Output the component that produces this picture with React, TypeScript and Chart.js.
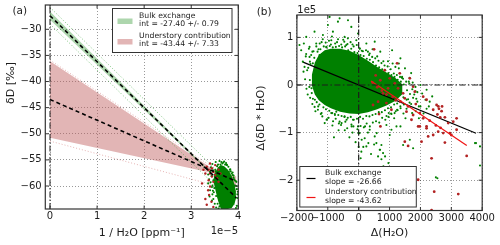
import React, { useEffect, useRef } from 'react';
import { Chart, registerables } from 'chart.js';

Chart.register(...registerables);

const FONT = 'DejaVu Sans';
const INK = '#1c1c1c';

// ---------------- Panel (a) data ----------------
const aXTicks = [0, 1, 2, 3, 4];
const aYTicks = [-60, -55, -50, -45, -40, -35, -30];
const aXMin = -0.1, aXMax = 4;
const aYMin = -64.4, aYMax = -25.35;

const aZeroX = [0, 0];
const aZeroY = [-64.4, -25.35];

const aBulkFitX = [0, 3.96];
const aBulkFitY = [-27.4, -62.29];
const aBulkBandX = [0, 3.7, 3.96];
const aBulkBandUp = [-26.61, -59.93, -62.1];
const aBulkBandLo = [-28.19, -60.07, -62.5];
const aBulkPredX = [0, 3.96];
const aBulkPredUp = [-25.8, -60.7];
const aBulkPredLo = [-29.0, -63.9];

const aUnderFitX = [0, 3.95];
const aUnderFitY = [-43.44, -59.08];
const aUnderBandX = [0, 3.5, 3.96];
const aUnderBandUp = [-36.11, -57.0, -58.2];
const aUnderBandLo = [-50.77, -57.6, -60.3];
const aUnderPredX = [0, 3.96];
const aUnderPredUp = [-35.9, -59.4];
const aUnderPredLo = [-51.4, -61.0];

const aCoreX = [3.48, 3.52, 3.57, 3.63, 3.7, 3.78, 3.86, 3.92, 3.95];
const aCoreUp = [-58.2, -57.2, -56.4, -56.0, -56.2, -56.9, -58.1, -59.7, -61.0];
const aCoreLo = [-59.4, -61.0, -62.8, -64.4, -64.4, -64.4, -64.2, -63.4, -62.4];

const aGreenX = [3.42, 3.45, 3.52, 3.6, 3.7, 3.74, 3.82, 3.88, 3.9, 3.96, 3.97, 3.98, 3.97, 3.43, 3.41, 3.44, 3.45, 3.47, 3.5, 3.53, 3.4, 3.38, 3.46, 3.58, 3.4, 3.36, 3.57, 3.64, 3.8, 3.92, 3.44, 3.49, 3.52, 3.46, 3.99, 3.36, 3.39, 3.62, 3.84, 3.95,
  3.55, 3.66, 3.72, 3.79, 3.84, 3.9, 3.94, 3.96, 3.5, 3.47, 3.49, 3.53, 3.56, 3.6, 3.68, 3.76, 3.83, 3.88, 3.93, 3.98, 3.51, 3.54, 3.45, 3.48, 3.58, 3.62, 3.67, 3.75, 3.86, 3.91];
const aGreenY = [-56.4, -55.8, -55.4, -55.2, -55.3, -55.6, -56.9, -57.4, -58.4, -59.2, -60.6, -62.3, -63.8, -58.1, -59.3, -60.2, -61.6, -62.5, -63.4, -64.1, -57.3, -58.7, -57.0, -64.3, -60.8, -57.8, -55.9, -55.4, -57.3, -58.9, -62.8, -58.7, -57.2, -60.9, -61.1, -59.5, -62.0, -55.9, -63.9, -64.2,
  -56.2, -55.7, -55.9, -56.3, -57.2, -58.0, -59.0, -60.0, -57.8, -58.9, -60.4, -61.9, -63.4, -63.9, -55.5, -56.0, -56.8, -57.9, -59.9, -61.6, -56.9, -57.9, -59.9, -61.2, -62.2, -63.3, -56.6, -55.9, -57.6, -58.7];

const aRedX = [3.33, 3.37, 3.44, 3.47, 3.4, 3.51, 3.55, 3.44, 3.58, 3.47, 3.37, 3.3, 3.26, 3.51, 3.4, 3.58, 3.62, 3.4, 3.36, 3.38, 3.3, 3.43, 3.33, 3.47, 3.23];
const aRedY = [-56.3, -56.9, -56.6, -57.3, -57.6, -57.9, -58.5, -58.2, -59.2, -59.2, -58.9, -57.6, -56.9, -56.0, -55.7, -56.9, -57.6, -60.1, -60.8, -61.7, -62.5, -63.0, -63.6, -64.0, -59.5];

// ---------------- Panel (b) data ----------------
const bXTicks = [-2000, -1000, 0, 1000, 2000, 3000, 4000];
const bYTicks = [-2, -1, 0, 1];
const bXMin = -2000, bXMax = 4000;
const bYMin = -2.636, bYMax = 1.47;

const bHLineX = [-2000, 4000];
const bHLineY = [0, 0];
const bVLineX = [0, 0];
const bVLineY = [-2.636, 1.47];

const bBulkX = [-1800, 3800];
const bBulkY = [0.48, -1.013];
const bUnderX = [400, 3500];
const bUnderY = [0.082, -1.27];

const bCoreX = [-1520, -1420, -1290, -1100, -900, -600, -300, 0, 300, 600, 900, 1200, 1420];
const bCoreUp = [0.2, 0.47, 0.63, 0.73, 0.76, 0.76, 0.72, 0.63, 0.51, 0.38, 0.26, 0.14, 0.01];
const bCoreLo = [0.0, -0.2, -0.32, -0.42, -0.49, -0.56, -0.6, -0.61, -0.57, -0.51, -0.43, -0.33, -0.19];

const bGreenX = [
  -617, -671, -996, -1429, -1158, -1698, -834, -455, -238, -76, 249, 520, 357, -1861, -1916, -1591, -1374, -1591, -1808, -1753, -1483, -1266, -1049, -887, -400, 32, -22, -346, -942,
  -1775, -1786, -1580, -1526, -1418, -1310, -1201, -1039, -769, -552, -390, -228, -11, 206, 98, 314, 585, 693, 855, 801, 963, 1071,
  2549, 3929, 3929, 3800, 1190, 1407, 1623, 1840, 2056, 2164, 1948, 1731, 1515, 2272, 2381, 1353, 1190, 974, 1245, 1082, 1352,
  3766, 2500, 1763, 1656, 1439, 1061, 1006, 737, 790, 1224, 899,
  -725, -455, -184, -22, 32, 195, 357, 520, 574, 682, 628, 737, 87, 65, 249, -887, -617,
  1600, 1700, 1800, 1650, 1750, 1900, 2000, 1850, 1550, 1450, 1350, 1200, 1150, 1050, 900, 1300, 1100, 950, 1200, 1400, 2100, 2200, 1950,
  -700, -500, -200, -900, -1200, -1500, -1300, -1700, -350, 100, 300, 600, 800, 700, 450, 1500, 1700, 2000, 2200, 2300, 1900, 1300,
  -1650, -1500, -1400, -1100, -850, -650, -450, -300, -100, 150, 400, 500, 300, 0, -200, -800,
  -1712, -1668, -1735, -1690, -1612, -1578, -1634, -1596, -1571, -1538, -1561, -1519, -1462, -1437, -1481, -1426,
  -1371, -1332, -1358, -1319, -1262, -1238, -1271, -1226, -1163, -1131, -1142, -1177, -1068, -1041, -1059, -1024,
  -962, -937, -951, -974, -866, -838, -857, -829, -761, -739, -772, -744, -668, -634, -659, -641,
  -563, -537, -552, -571, -466, -438, -459, -431, -362, -339, -353, -371, -262, -241, -256, -234,
  -163, -139, -158, -171, -62, -38, -54, -41, 38, 61, 47, 62, 137, 162, 141, 168,
  238, 263, 247, 259, 337, 361, 349, 362, 438, 466, 447, 459, 536, 561, 548, 563,
  641, 663, 652, 667, 738, 762, 749, 761, 839, 862, 851, 863, 938, 961, 949, 966,
  1036, 1062, 1047, 1063, 1138, 1161, 1149, 1164, 1237, 1263, 1246, 1262, 1339, 1366, 1347, 1358, 1371,
  1437, 1462, 1448, 1463, 1538, 1566, 1552, 1641, 1662, 1648, 1737, 1762, 1842, 1866,
];
const bGreenY = [
  1.4, 1.33, 1.26, 1.12, 1.05, 1.01, 1.12, 1.01, 1.22, 0.94, 0.87, 0.91, 0.66, 0.73, 0.84, 0.8, 0.87, 0.59, 0.49, 0.38, 0.455, 0.63, 0.8, 0.94, 0.84, 0.77, 1.08, 1.36, 1.43,
  0.87, 0.28, 0.105, -0.07, -0.31, -0.45, -0.59, -0.73, -0.63, -0.8, -0.73, -0.87, -1.01, -0.87, -1.15, -1.22, -1.01, -1.36, -1.5, -1.71, -1.64, -1.85,
  -1.96, -1.29, -1.69, -1.22, 0.38, 0.17, 0.07, -0.04, -0.18, -0.31, -0.45, -0.59, -0.7, -0.45, -0.24, -0.87, -0.31, -0.59, -0.52, 0.73, 0.56,
  -1.22, -1.94, -1.33, -1.15, -1.26, -0.94, -1.05, -1.26, -1.43, -0.87, -0.84,
  -0.56, -0.66, -0.73, -0.87, -1.01, -1.12, -0.94, -1.08, -1.22, -1.36, -1.5, -1.56, -1.4, -1.54, -1.29, -0.59, -0.77,
  -0.3, -0.4, -0.2, 0.15, 0.05, -0.35, -0.45, -0.55, -0.5, -0.6, -0.45, -0.55, -0.7, -0.6, -0.65, 0.35, 0.45, 0.5, 0.05, 0.15, -0.6, -0.5, -0.7,
  0.9, 0.95, 0.85, 0.85, 0.9, 0.7, 0.75, 0.65, 0.98, 0.72, 0.7, 0.6, 0.5, 0.7, 0.75, 0.35, 0.25, 0.0, -0.1, -0.35, -0.15, 0.45,
  -0.2, -0.4, -0.55, -0.8, -0.85, -0.95, -0.95, -1.1, -1.2, -1.3, -1.45, -1.25, -1.0, -1.3, -1.0, -1.1,
  0.6, 0.31, 0.12, -0.08, 0.76, 0.49, 0.36, -0.04, -0.27, 0.63, 0.44, -0.17, 0.71, 0.57, -0.29, -0.46,
  0.81, 0.7, -0.36, -0.52, 0.87, 0.75, -0.41, -0.61, 0.96, 0.81, -0.47, -0.66, 0.89, 0.79, -0.51, -0.72,
  0.93, 0.82, -0.54, -0.69, 1.02, 0.79, -0.59, -0.76, 0.87, 0.8, -0.61, -0.71, 0.96, 0.82, -0.63, -0.81,
  0.85, 0.79, -0.65, -0.84, 0.91, 0.81, -0.67, -0.77, 0.86, 0.73, -0.69, -0.91, 0.9, 0.76, -0.67, -0.83,
  0.81, 0.69, -0.73, -0.87, 0.84, 0.67, -0.71, -0.93, 0.76, 0.63, -0.67, -0.86, 0.71, 0.61, -0.71, -0.89,
  0.73, 0.55, -0.65, -0.81, 0.63, 0.53, -0.66, -0.87, 0.59, 0.48, -0.63, -0.79, 0.56, 0.41, -0.61, -0.76,
  0.51, 0.37, -0.57, -0.79, 0.46, 0.33, -0.57, -0.69, 0.41, 0.31, -0.53, -0.73, 0.39, 0.25, -0.49, -0.67,
  0.33, 0.21, -0.47, -0.61, 0.24, 0.17, -0.41, -0.59, 0.21, 0.11, -0.39, -0.53, 0.17, 0.07, -0.34, -0.49, -0.11,
  0.13, 0.01, -0.26, -0.41, 0.07, -0.11, -0.31, 0.03, -0.19, -0.37, -0.09, -0.27, -0.13, -0.29,
];

const bRedX = [498, 1244, 844, 1656, 1763, 1818, 1276, 1439, 1494, 2088, 2198, 2523, 2600, 2685, 2550, 2640, 2580, 2700, 2413, 1981, 2088, 1763, 1710, 1548, 2198, 1926, 2900, 3062, 3171, 2792, 1061, 899, 790, 1006, 1169, 1331, 951, 2035, 2413, 2250, 1601, 1494, 2792, 2955, 2738, 3497, 2361, 2446, 3225, 2361, 1926, 1981, 2198, 3171, 2575, 628, 465, 704, 660, 450, 600, 750, 900, 1100, 1200, 1350, 700, 550, 1600, 1850, 2300, 2500, 2650, 3000];
const bRedY = [0.75, 0.455, 0.31, 0.14, -0.035, -0.14, -0.07, -0.175, -0.28, -0.245, -0.31, -0.42, -0.5, -0.55, -0.62, -0.68, -0.45, -0.45, -0.52, -0.59, -0.7, -0.63, -0.73, -0.56, -0.87, -0.87, -0.8, -0.77, -0.7, -0.68, -0.52, -0.38, -0.175, 0.14, 0.035, 0.245, -0.07, -1.19, -1.05, -1.08, -1.28, -1.19, -1.21, -1.01, -1.01, -1.49, -1.54, -2.24, -2.29, -2.63, -1.99, -0.87, -0.91, -0.94, -0.98, -0.35, -0.42, -0.87, -0.61, 0.05, -0.05, -0.12, -0.2, -0.25, -0.32, -0.35, 0.1, 0.2, -0.45, -0.4, -0.75, -0.85, -0.9, -1.05];

// ---------------- Texts ----------------
const aLegendLabels = [
  ['Bulk exchange', 'int = -27.40 +/- 0.79'],
  ['Understory contribution', 'int = -43.44 +/- 7.33'],
];
const bLegendLabels = [
  ['Bulk exchange', 'slope = -26.66'],
  ['Understory contribution', 'slope = -43.62'],
];
const aXTitle = '1 / H\u2082O [ppm\u207B\u00B9]';
const aYTitle = '\u03B4D [\u2030]';
const bXTitle = '\u0394(H\u2082O)';
const bYTitle = '\u0394(\u03B4D * H\u2082O)';

const GREEN_BAND = 'rgba(0,128,0,0.32)';
const RED_BAND = 'rgba(190,90,90,0.45)';
const GREEN_PT = 'rgb(0,128,0)';
const RED_PT = 'rgb(178,34,34)';

const pts = (xs: number[], ys: number[]) => xs.map((x, i) => ({ x, y: ys[i] }));
const fmt = (v: number) => String(v).replace('-', '\u2212');

function lineDs(xs: number[], ys: number[], o: any) {
  return { data: pts(xs, ys), showLine: true, pointRadius: 0, pointHoverRadius: 0, borderWidth: 1, tension: 0, fill: false, ...o };
}
function ptDs(xs: number[], ys: number[], color: string, r: number, order: number) {
  return { data: pts(xs, ys), showLine: false, pointRadius: r, pointHoverRadius: r, pointBackgroundColor: color, pointBorderWidth: 0, borderWidth: 0, order };
}

function axes(xMin: number, xMax: number, yMin: number, yMax: number, xTicks: number[], yTicks: number[], yW: number, xH: number, xTitle: string, xPad: number) {
  const tickFont = { family: FONT, size: 10 };
  const titleFont = { family: FONT, size: 11 };
  const zero = (s: any) => { s.paddingLeft = 0; s.paddingRight = 0; s.paddingTop = 0; s.paddingBottom = 0; };
  return {
    x: {
      type: 'linear', min: xMin, max: xMax,
      afterBuildTicks: (s: any) => { s.ticks = xTicks.map((v) => ({ value: v })); },
      afterFit: (s: any) => { s.height = xH; zero(s); },
      ticks: { callback: (v: any) => fmt(Number(v)), font: tickFont, color: INK, padding: xPad, maxRotation: 0, minRotation: 0, autoSkip: false },
      grid: { color: 'rgba(0,0,0,0.5)', lineWidth: 0.8, drawTicks: false },
      border: { display: false, dash: [1, 2] },
      title: { display: true, text: xTitle, font: titleFont, color: INK, padding: { top: 0, bottom: 5.4 } },
    },
    y: {
      type: 'linear', min: yMin, max: yMax,
      afterBuildTicks: (s: any) => { s.ticks = yTicks.map((v) => ({ value: v })); },
      afterFit: (s: any) => { s.width = yW; zero(s); },
      ticks: { callback: (v: any) => fmt(Number(v)), font: tickFont, color: INK, padding: 3.6, autoSkip: false },
      grid: { color: 'rgba(0,0,0,0.5)', lineWidth: 0.8, drawTicks: false },
      border: { display: false, dash: [1, 2] },
      title: { display: false },
    },
  };
}

function framePlugin(xTicks: number[], yTicks: number[]) {
  return {
    id: 'frameTicks',
    afterDatasetsDraw(chart: any) {
      const { ctx, chartArea: a, scales } = chart;
      ctx.save();
      ctx.strokeStyle = '#333';
      ctx.lineWidth = 1;
      ctx.beginPath();
      for (const v of xTicks) {
        const px = scales.x.getPixelForValue(v);
        ctx.moveTo(px, a.bottom); ctx.lineTo(px, a.bottom - 3.5);
        ctx.moveTo(px, a.top); ctx.lineTo(px, a.top + 3.5);
      }
      for (const v of yTicks) {
        const py = scales.y.getPixelForValue(v);
        ctx.moveTo(a.left, py); ctx.lineTo(a.left + 3.5, py);
        ctx.moveTo(a.right, py); ctx.lineTo(a.right - 3.5, py);
      }
      ctx.stroke();
      ctx.lineWidth = 1.2;
      ctx.strokeRect(a.left, a.top, a.right - a.left, a.bottom - a.top);
      ctx.restore();
    },
  };
}

function textPlugin(draw: (ctx: CanvasRenderingContext2D, chart: any) => void) {
  return {
    id: 'texts',
    afterDraw(chart: any) {
      const ctx = chart.ctx as CanvasRenderingContext2D;
      ctx.save();
      draw(ctx, chart);
      ctx.restore();
    },
  };
}

function vText(ctx: CanvasRenderingContext2D, text: string, x: number, y: number) {
  ctx.save();
  ctx.translate(x, y);
  ctx.rotate(-Math.PI / 2);
  ctx.textAlign = 'center';
  ctx.textBaseline = 'middle';
  ctx.font = `11px "${FONT}"`;
  ctx.fillStyle = INK;
  ctx.fillText(text, 0, 0);
  ctx.restore();
}

function configA(): any {
  const datasets = [
    lineDs(aZeroX, aZeroY, { borderColor: INK, borderWidth: 1, borderDash: [6, 2, 1.5, 2], order: 0 }),
    lineDs(aBulkFitX, aBulkFitY, { borderColor: '#000', borderWidth: 1.6, borderDash: [4, 3], order: 1 }),
    lineDs(aUnderFitX, aUnderFitY, { borderColor: '#000', borderWidth: 1.6, borderDash: [4, 3], order: 1 }),
    ptDs(aRedX, aRedY, RED_PT, 1.2, 3),
    ptDs(aGreenX, aGreenY, GREEN_PT, 1.05, 4),
    lineDs(aCoreX, aCoreUp, { borderWidth: 0, backgroundColor: GREEN_PT, fill: '+1', order: 5 }),
    lineDs(aCoreX, aCoreLo, { borderWidth: 0, order: 5 }),
    lineDs(aBulkPredX, aBulkPredUp, { borderColor: 'rgba(40,160,40,0.75)', borderWidth: 0.8, borderDash: [1, 2], order: 6 }),
    lineDs(aBulkPredX, aBulkPredLo, { borderColor: 'rgba(40,160,40,0.75)', borderWidth: 0.8, borderDash: [1, 2], order: 6 }),
    lineDs(aUnderPredX, aUnderPredUp, { borderColor: 'rgba(210,120,120,0.7)', borderWidth: 0.8, borderDash: [1, 2], order: 6 }),
    lineDs(aUnderPredX, aUnderPredLo, { borderColor: 'rgba(210,120,120,0.7)', borderWidth: 0.8, borderDash: [1, 2], order: 6 }),
    lineDs(aBulkBandX, aBulkBandUp, { borderWidth: 0, backgroundColor: GREEN_BAND, fill: '+1', order: 7 }),
    lineDs(aBulkBandX, aBulkBandLo, { borderWidth: 0, order: 7 }),
    lineDs(aUnderBandX, aUnderBandUp, { borderWidth: 0, backgroundColor: RED_BAND, fill: '+1', order: 8 }),
    lineDs(aUnderBandX, aUnderBandLo, { borderWidth: 0, order: 8 }),
  ];
  return {
    type: 'line',
    data: { datasets },
    options: {
      animation: false, responsive: false, events: [],
      layout: { padding: { left: 0, top: 5, right: 11.7, bottom: 0 }, autoPadding: false },
      plugins: { legend: { display: false }, tooltip: { enabled: false } },
      scales: axes(aXMin, aXMax, aYMin, aYMax, aXTicks, aYTicks, 45.3, 36, aXTitle, 1.5),
    },
    plugins: [
      framePlugin(aXTicks, aYTicks),
      textPlugin((ctx) => {
        vText(ctx, aYTitle, 11.5, 83);
        ctx.fillStyle = INK;
        ctx.font = `10.5px "${FONT}"`;
        ctx.textBaseline = 'middle';
        ctx.textAlign = 'left';
        ctx.fillText('(a)', 12.5, 11.5);
        ctx.font = `10px "${FONT}"`;
        ctx.textAlign = 'right';
        ctx.fillText('1e\u22125', 238, 231);
        // legend
        ctx.fillStyle = '#fff';
        ctx.fillRect(112.5, 8.5, 119.5, 44);
        ctx.strokeStyle = '#333';
        ctx.lineWidth = 1;
        ctx.strokeRect(112.5, 8.5, 119.5, 44);
        ctx.fillStyle = GREEN_BAND;
        ctx.fillRect(117.5, 18.5, 15, 5.5);
        ctx.fillStyle = RED_BAND;
        ctx.fillRect(117.5, 39, 15, 5.5);
        ctx.fillStyle = INK;
        ctx.font = `7.7px "${FONT}"`;
        ctx.textAlign = 'left';
        ctx.fillText(aLegendLabels[0][0], 139, 16.3);
        ctx.fillText(aLegendLabels[0][1], 139, 24.5);
        ctx.fillText(aLegendLabels[1][0], 139, 36.3);
        ctx.fillText(aLegendLabels[1][1], 139, 44.5);
      }),
    ],
  };
}

function configB(): any {
  const datasets = [
    lineDs(bHLineX, bHLineY, { borderColor: INK, borderWidth: 1.2, borderDash: [6, 2.5, 1.5, 2.5], order: 0 }),
    lineDs(bVLineX, bVLineY, { borderColor: INK, borderWidth: 1.2, borderDash: [6, 2.5, 1.5, 2.5], order: 0 }),
    lineDs(bUnderX, bUnderY, { borderColor: 'rgb(240,20,20)', borderWidth: 1.2, order: 1 }),
    ptDs(bRedX, bRedY, RED_PT, 1.4, 2),
    ptDs(bGreenX, bGreenY, GREEN_PT, 1.05, 3),
    lineDs(bBulkX, bBulkY, { borderColor: '#000', borderWidth: 1.2, order: 4 }),
    lineDs(bCoreX, bCoreUp, { borderWidth: 0, backgroundColor: GREEN_PT, fill: '+1', order: 5 }),
    lineDs(bCoreX, bCoreLo, { borderWidth: 0, order: 5 }),
  ];
  return {
    type: 'line',
    data: { datasets },
    options: {
      animation: false, responsive: false, events: [],
      layout: { padding: { left: 0, top: 15, right: 17.8, bottom: 0 }, autoPadding: false },
      plugins: { legend: { display: false }, tooltip: { enabled: false } },
      scales: axes(bXMin, bXMax, bYMin, bYMax, bXTicks, bYTicks, 46.9, 34.5, bXTitle, 2),
    },
    plugins: [
      framePlugin(bXTicks, bYTicks),
      textPlugin((ctx) => {
        vText(ctx, bYTitle, 11.5, 118);
        ctx.fillStyle = INK;
        ctx.font = `10.5px "${FONT}"`;
        ctx.textBaseline = 'middle';
        ctx.textAlign = 'left';
        ctx.fillText('(b)', 6.7, 12);
        ctx.font = `10px "${FONT}"`;
        ctx.fillText('1e5', 47.3, 10);
        // legend
        ctx.fillStyle = '#fff';
        ctx.fillRect(49.8, 166.5, 116.5, 40.5);
        ctx.strokeStyle = '#333';
        ctx.lineWidth = 1;
        ctx.strokeRect(49.8, 166.5, 116.5, 40.5);
        ctx.lineWidth = 1.2;
        ctx.strokeStyle = '#000';
        ctx.beginPath(); ctx.moveTo(56.5, 178.5); ctx.lineTo(65.5, 178.5); ctx.stroke();
        ctx.strokeStyle = 'rgb(240,20,20)';
        ctx.beginPath(); ctx.moveTo(56.5, 197.5); ctx.lineTo(65.5, 197.5); ctx.stroke();
        ctx.fillStyle = INK;
        ctx.font = `7.7px "${FONT}"`;
        ctx.fillText(bLegendLabels[0][0], 75, 173.3);
        ctx.fillText(bLegendLabels[0][1], 75, 181.7);
        ctx.fillText(bLegendLabels[1][0], 75, 192.3);
        ctx.fillText(bLegendLabels[1][1], 75, 200.7);
      }),
    ],
  };
}

function Panel({ make, left }: { make: () => any; left: number }) {
  const ref = useRef<HTMLCanvasElement | null>(null);
  useEffect(() => {
    if (!ref.current) return;
    const chart = new Chart(ref.current, make());
    return () => chart.destroy();
  }, [make]);
  return (
    <canvas
      ref={ref}
      width={250}
      height={245}
      style={{ position: 'absolute', left, top: 0, width: 250, height: 245 }}
    />
  );
}

export default function App() {
  return (
    <div style={{ position: 'absolute', left: 0, top: 0, width: 500, height: 245, background: '#fff' }}>
      <Panel make={configA} left={0} />
      <Panel make={configB} left={250} />
    </div>
  );
}
